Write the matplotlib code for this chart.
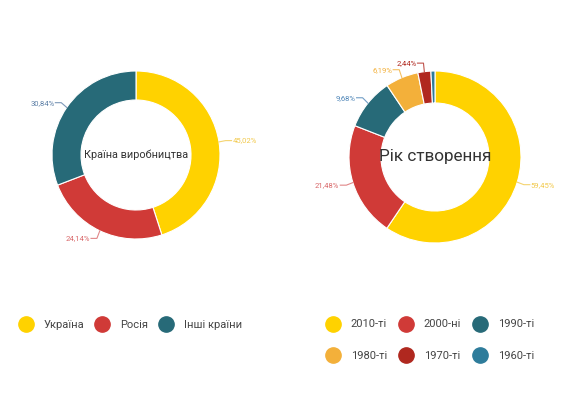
import numpy as np
import matplotlib
matplotlib.use('Agg')
import matplotlib.pyplot as plt
from matplotlib.lines import Line2D

plt.rcParams['font.family'] = ['Roboto', 'DejaVu Sans']

# left donut: country of production
country_labels = ['Україна', 'Росія', 'Інші країни']
country_values = [45.02, 24.14, 30.84]
country_colors = ['#FFD200', '#D03A37', '#276A78']
country_text_colors = ['#F2C94C', '#D9686A', '#5C7FA6']

# right donut: decade of creation
decade_labels = ['2010-ті', '2000-ні', '1990-ті', '1980-ті', '1970-ті', '1960-ті']
decade_values = [59.45, 21.48, 9.68, 6.19, 2.44, 0.76]
decade_colors = ['#FFD200', '#D03A37', '#276A78', '#F3B03A', '#B0281F', '#2E7C9B']
decade_text_colors = ['#F2C94C', '#D9686A', '#4F86B8', '#F3B03A', '#B0281F', '#2E7C9B']

W, H = 564, 395
fig = plt.figure(figsize=(W / 100, H / 100), dpi=100)
fig.patch.set_facecolor('white')


def donut(cx, cy, r_out, r_in, values, colors, tcolors, center_text, center_size, min_label=1.0):
    box = 260
    ax = fig.add_axes([(cx - box / 2) / W, (H - cy - box / 2) / H, box / W, box / H])
    wedges, _ = ax.pie(values, colors=colors, startangle=90, counterclock=False, radius=1,
                       wedgeprops=dict(width=(r_out - r_in) / r_out, edgecolor='white', linewidth=0.8))
    lim = box / 2 / r_out
    ax.set_xlim(-lim, lim)
    ax.set_ylim(-lim, lim)
    ax.set_aspect('equal')
    ax.axis('off')
    for w, v, tc in zip(wedges, values, tcolors):
        if v < min_label:
            continue
        ang = np.deg2rad((w.theta1 + w.theta2) / 2)
        x0, y0 = np.cos(ang), np.sin(ang)
        x1, y1 = 1.08 * np.cos(ang), 1.1 * np.sin(ang)
        side = 1 if x0 >= 0 else -1
        x2 = x1 + side * 0.07
        ax.plot([x0, x1, x2], [y0, y1, y1], color=tc, lw=0.8, alpha=0.8)
        ax.text(x2 + side * 0.01, y1, f'{v:.2f}%'.replace('.', ','), color=tc, fontsize=5.5,
                ha='left' if side > 0 else 'right', va='center')
    ax.text(0, 0, center_text, ha='center', va='center', fontsize=center_size, color='#333333')
    return ax


donut(136, 155, 84, 55, country_values, country_colors, country_text_colors,
      'Країна виробництва', 7.8)
donut(435, 157, 86, 54, decade_values, decade_colors, decade_text_colors,
      'Рік створення', 12.3)


def handles(labels, colors):
    return [Line2D([0], [0], marker='o', linestyle='none', markersize=11,
                   markerfacecolor=c, markeredgecolor=c, label=l) for l, c in zip(labels, colors)]


leg1 = fig.legend(handles=handles(country_labels, country_colors), loc='center left',
                  bbox_to_anchor=(5 / W, 1 - 325 / H), ncol=3, frameon=False, fontsize=8,
                  handletextpad=0.6, columnspacing=0.6, labelcolor='#444444')

order = [0, 3, 1, 4, 2, 5]
leg2 = fig.legend(handles=[handles(decade_labels, decade_colors)[i] for i in order], loc='center left',
                  bbox_to_anchor=(312 / W, 1 - 340 / H), ncol=3, frameon=False, fontsize=8,
                  handletextpad=0.6, columnspacing=0.7, labelspacing=1.9, labelcolor='#444444')

fig.savefig('out.png', dpi=100, facecolor='white')
